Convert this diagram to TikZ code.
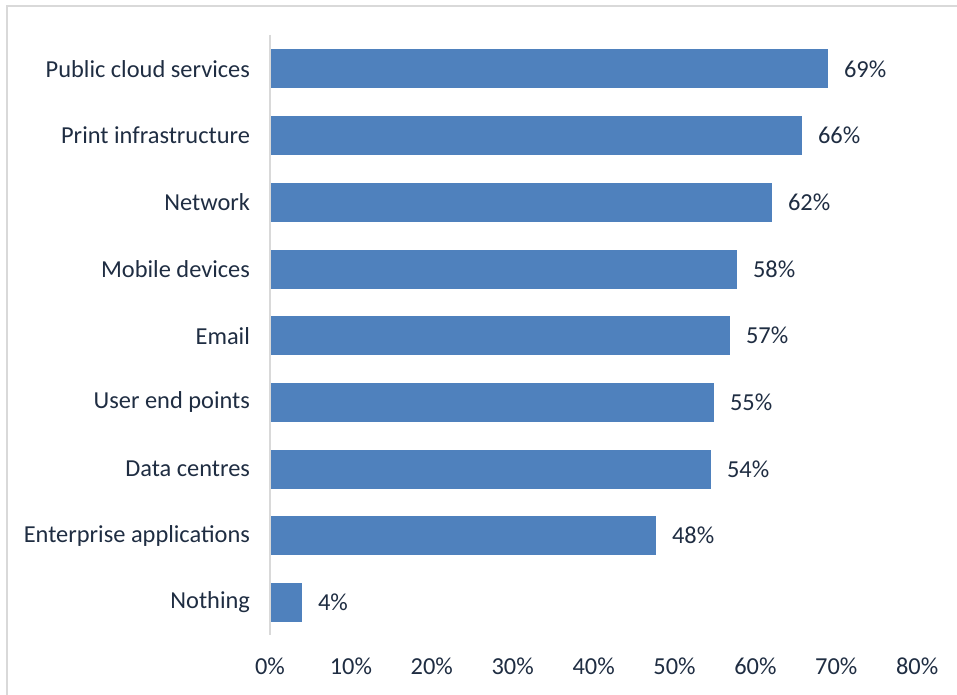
\documentclass[tikz,border=0pt]{standalone}
\usepackage{fontspec}
\setmainfont{Carlito}
\usetikzlibrary{positioning}
\definecolor{barblue}{RGB}{79,129,189}
\definecolor{labelnavy}{RGB}{31,45,66}
\definecolor{framegray}{RGB}{217,217,217}

\begin{document}
\begin{tikzpicture}[
    x = 0.5pt, y = -0.5pt,
    every node/.style = {font = \fontsize{12.2}{14}\selectfont, text = labelnavy},
    bar/.style = {fill = barblue, inner sep = 0pt, outer sep = 0pt,
                  minimum height = 19.5pt, anchor = west},
    category/.style = {anchor = east},
    value/.style = {anchor = west},
  ]
  \useasboundingbox (0,0) rectangle (957,695);
  \draw [framegray, line width = 1pt] (7,695) -- (7,6) -- (957,6);

  \coordinate (axis top) at (270,35);
  \coordinate (axis bottom) at (270,635);
  \draw [framegray, line width = 1pt] (axis top) -- (axis bottom);

  % bar length in px of the 957 wide page
  \foreach \name/\val/\len [count = \i] in {Public cloud services/69/557,
      Print infrastructure/66/531, Network/62/501, Mobile devices/58/466,
      Email/57/459, User end points/55/443, Data centres/54/440,
      Enterprise applications/48/385, Nothing/4/31} {
    \coordinate (base \i) at (271, {2.33 + 66.67*\i});
    \node [bar, minimum width = {\len*0.5pt}] (bar \i) at (base \i) {};
    \node [value, right = 4.5pt of bar \i] (value \i) {\val\%};
    \node [category, left = 7pt of base \i] (category \i) {\name};
  }

  \foreach \t in {0,...,8} {
    \pgfmathtruncatemacro\pct{10*\t}
    \node (tick \t) at ({270 + 80.9*\t}, 666) {\pct\%};
  }
\end{tikzpicture}
\end{document}
